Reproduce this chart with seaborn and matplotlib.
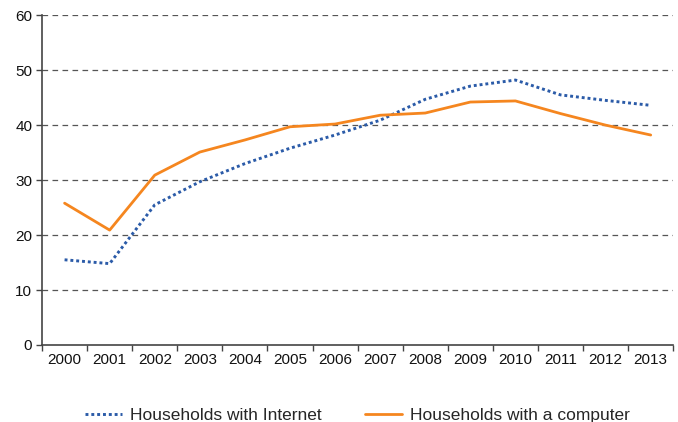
import matplotlib
matplotlib.use("Agg")
import matplotlib.pyplot as plt
import seaborn as sns
import pandas as pd
import numpy as np

years = [2000, 2001, 2002, 2003, 2004, 2005, 2006, 2007, 2008, 2009, 2010, 2011, 2012, 2013]
internet = [15.5, 14.8, 25.5, 29.7, 33.0, 35.8, 38.2, 40.9, 44.7, 47.1, 48.2, 45.5, 44.5, 43.6]
computer = [25.8, 20.9, 30.9, 35.1, 37.3, 39.7, 40.2, 41.8, 42.2, 44.2, 44.4, 42.1, 40.0, 38.2]
y_ticks = [0, 10, 20, 30, 40, 50, 60]

sns.set_style("white")
plt.rcParams['font.family'] = ['Liberation Sans', 'DejaVu Sans']

df = pd.DataFrame({"pos": np.arange(len(years)), "internet": internet, "computer": computer})

fig = plt.figure(figsize=(6.78, 4.22), dpi=100)
ax = fig.add_axes([0.062, 0.1825, 0.931, 0.7815])

for v in y_ticks[1:]:
    ax.axhline(v, color="#555555", lw=0.9, ls=(0, (4.5, 3.5)), zorder=1)

sns.lineplot(data=df, x="pos", y="internet", ax=ax, color="#2b5ba8", lw=2.1,
             linestyle=(0, (1, 1)), label="Households with Internet", zorder=3)
sns.lineplot(data=df, x="pos", y="computer", ax=ax, color="#f5861f", lw=2.0,
             label="Households with a computer", zorder=3)

ax.set_xlim(-0.5, len(years) - 0.5)
ax.set_ylim(0, 60)
ax.set_yticks(y_ticks)
ax.set_xticks(np.arange(len(years)))
ax.set_xticklabels([str(y) for y in years])
ax.set_xticks(np.arange(len(years) + 1) - 0.5, minor=True)
ax.tick_params(axis="x", which="major", bottom=True, length=0, pad=6, labelsize=11, colors="#111111")
ax.tick_params(axis="x", which="minor", bottom=True, length=4, width=1, color="#444444", direction="out")
ax.tick_params(axis="y", left=True, length=4, width=1, color="#444444", labelsize=11, pad=3, labelcolor="#111111")
ax.set_xlabel("")
ax.set_ylabel("")

for s in ["top", "right"]:
    ax.spines[s].set_visible(False)
for s in ["left", "bottom"]:
    ax.spines[s].set_color("#444444")
    ax.spines[s].set_linewidth(1.2)

ax.legend(loc="center", bbox_to_anchor=(0.5, -0.215), ncol=2, frameon=False,
          fontsize=12.5, handlelength=2.1, columnspacing=2.5, handletextpad=0.5)

fig.savefig("out.png", dpi=100)
